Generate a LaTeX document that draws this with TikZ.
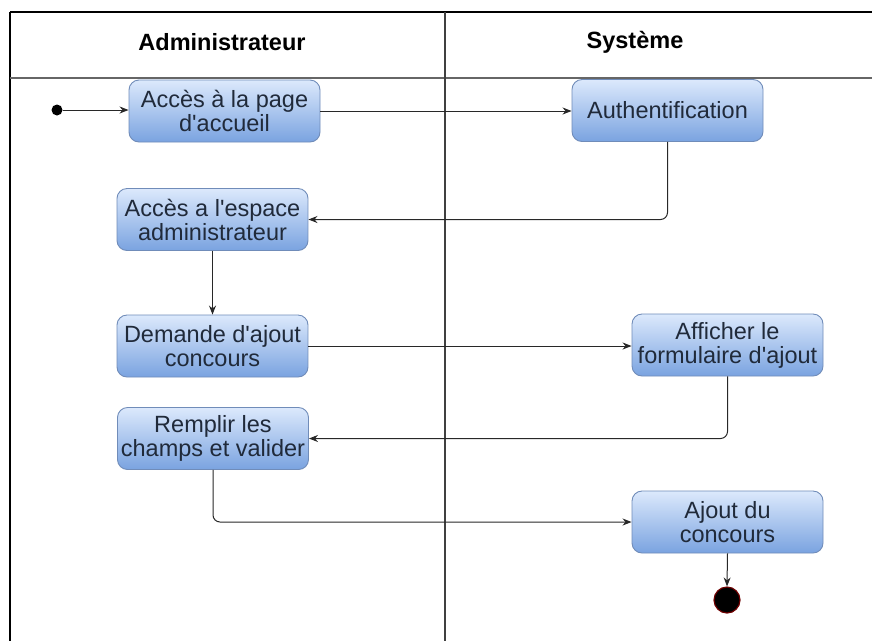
\documentclass[tikz,border=0pt]{standalone}
\usepackage{fontspec}
\setmainfont{Liberation Sans}[Ligatures=TeXOff]
\usetikzlibrary{arrows.meta}
\definecolor{boxtop}{RGB}{220,233,252}
\definecolor{boxbot}{RGB}{122,163,224}
\definecolor{boxline}{RGB}{112,140,185}
\definecolor{boxtext}{RGB}{32,42,58}
\definecolor{flowline}{RGB}{40,40,40}
\definecolor{endring}{RGB}{110,0,0}
\tikzset{
  activity/.style={draw=boxline, line width=0.9pt, rounded corners=10pt,
    top color=boxtop, bottom color=boxbot, text=boxtext,
    minimum width=191pt, minimum height=62pt, inner sep=2pt, align=center,
    font=\fontsize{23.5}{24}\selectfont},
  lanehead/.style={font=\bfseries\fontsize{23.5}{24}\selectfont, text=black},
  flow/.style={draw=flowline, line width=1pt, rounded corners=7pt,
    -{Stealth[length=9pt,width=7pt]}},
  startdot/.style={circle, fill=black, minimum size=11pt, inner sep=0pt},
  enddot/.style={circle, fill=black, draw=endring, line width=1.2pt,
    minimum size=26pt, inner sep=0pt},
}
\begin{document}
\begin{tikzpicture}[x=1pt, y=-1pt]
\useasboundingbox (0,0) rectangle (872,641);
\fill[white] (0,0) rectangle (872,641);

% swimlane frame
\draw[line width=1.3pt, black] (10,12) -- (872,12);
\draw[line width=1.3pt, black] (10,12) -- (10,641);
\draw[line width=1.2pt, gray!80!black] (10,78) -- (872,78);
\draw[line width=1.3pt, black!75] (445,12) -- (445,641);

\node[lanehead] (hadmin) at (222,42) {Administrateur};
\node[lanehead] (hsys) at (635,42) {Système};

% activities
\node[startdot] (start) at (57,110) {};
\node[activity] (accueil) at (224.5,111) {Accès à la page\\d'accueil};
\node[activity] (auth) at (667.5,110.5) {Authentification};
\node[activity] (espace) at (212.5,219.5) {Accès a l'espace\\administrateur};
\node[activity] (demande) at (212.5,346) {Demande d'ajout\\concours};
\node[activity] (form) at (727.5,345) {Afficher le\\formulaire d'ajout};
\node[activity] (remplir) at (213,438.5) {Remplir les\\champs et valider};
\node[activity] (ajout) at (727.5,522) {Ajout du\\concours};
\node[enddot] (fin) at (727,600) {};

% control flow
\draw[flow] (start) -- (accueil.west |- start);
\draw[flow] (accueil.east) -- (auth.west |- accueil.east);
\draw[flow] (auth.south) |- (espace.east);
\draw[flow] (espace.south) -- (demande.north);
\draw[flow] (demande.east) -- (form.west |- demande.east);
\draw[flow] (form.south) |- (remplir.east);
\draw[flow] (remplir.south) |- (ajout.west);
\draw[flow] (ajout.south) -- (fin.north);
\end{tikzpicture}
\end{document}
